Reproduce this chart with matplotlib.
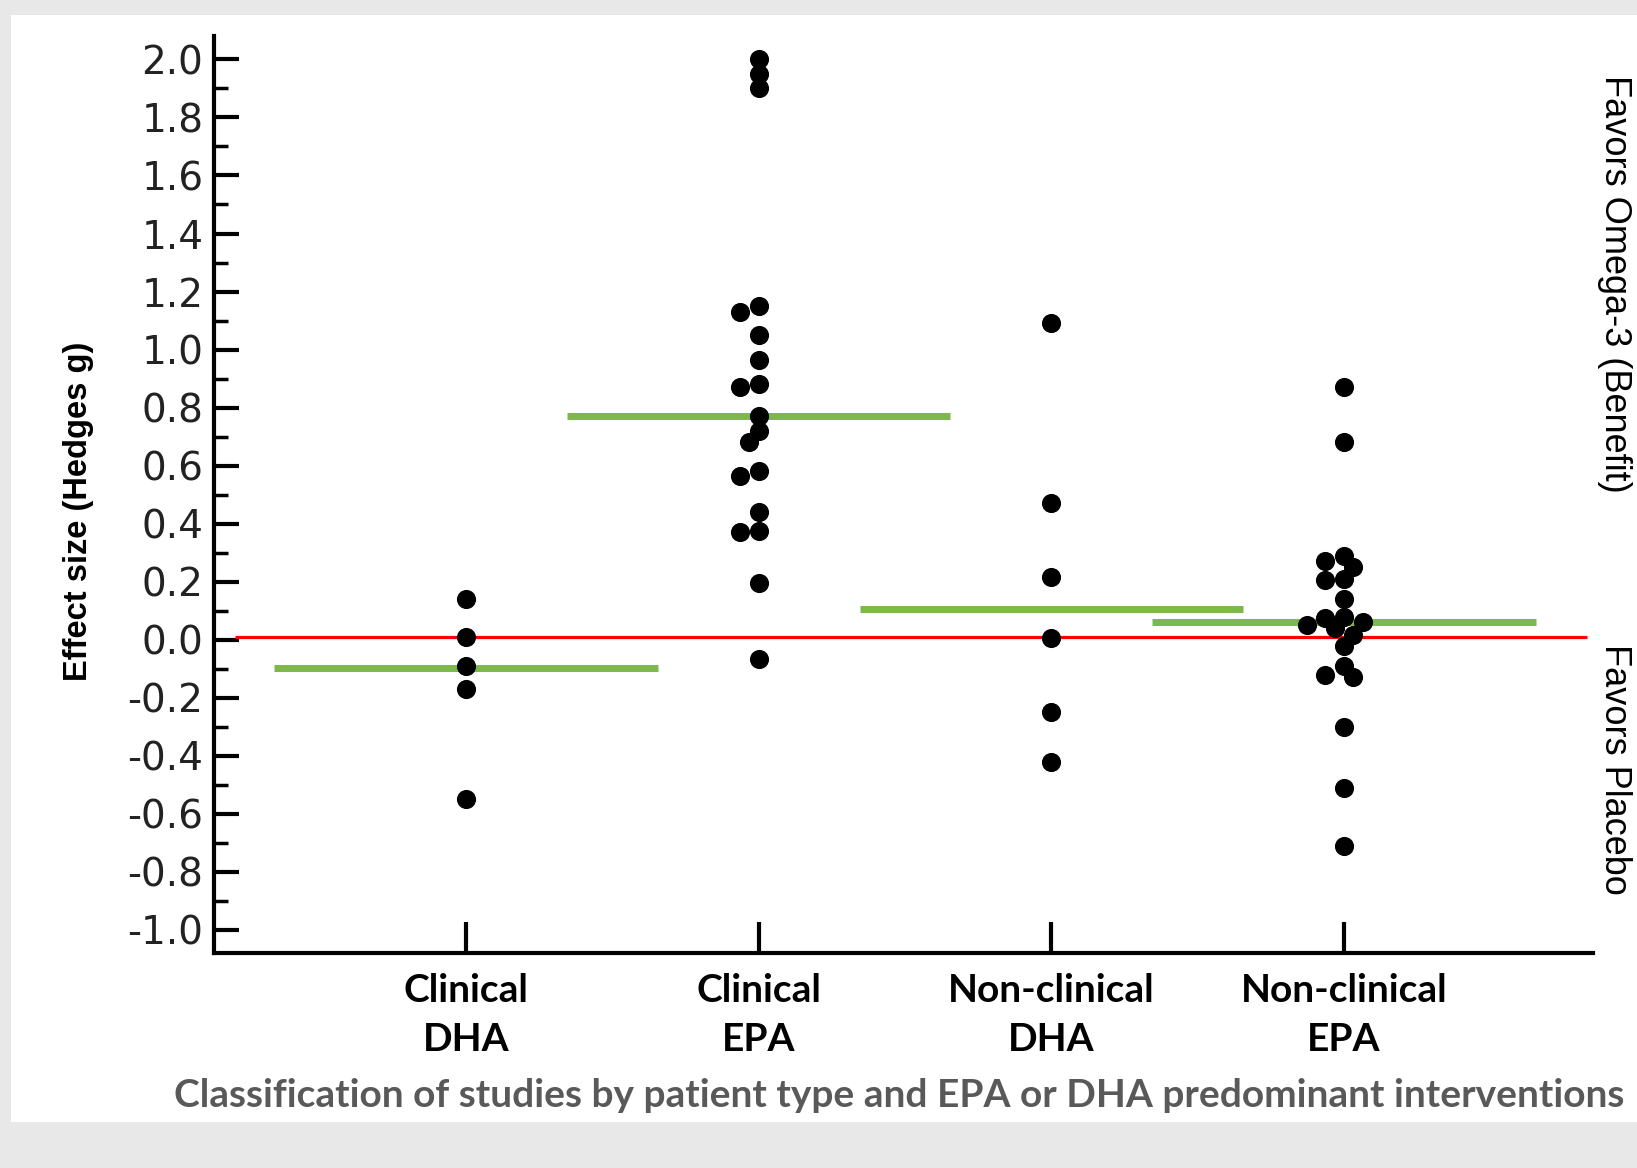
import numpy as np
import matplotlib.pyplot as plt
from matplotlib.patches import Rectangle
from matplotlib.ticker import MultipleLocator

# data
categories = ['Clinical\nDHA', 'Clinical\nEPA', 'Non-clinical\nDHA', 'Non-clinical\nEPA']
clinical_dha = [0.14, 0.01, -0.09, -0.17, -0.55]
clinical_epa = [2.00, 1.95, 1.90, 1.15, 1.13, 1.05, 0.965, 0.88, 0.87, 0.77, 0.72, 0.68,
                0.58, 0.565, 0.44, 0.375, 0.37, 0.195, -0.065]
nonclinical_dha = [1.09, 0.47, 0.215, 0.005, -0.25, -0.42]
nonclinical_epa = [0.87, 0.68, 0.29, 0.27, 0.25, 0.21, 0.205, 0.14, 0.08, 0.075, 0.06,
                   0.05, 0.04, 0.015, -0.02, -0.09, -0.12, -0.13, -0.30, -0.51, -0.71]
group_means = [-0.097, 0.77, 0.105, 0.06]
no_effect = 0.01
ytick_vals = [-1.0, -0.8, -0.6, -0.4, -0.2, 0.0, 0.2, 0.4, 0.6, 0.8, 1.0, 1.2, 1.4, 1.6, 1.8, 2.0]


def swarm(values, d=0.064, thresh=0.7):
    # simple beeswarm: place each point at the smallest offset that does not collide
    placed = []
    offs = np.zeros(len(values))
    order = np.argsort(values)[::-1]
    cands = [0]
    for k in range(1, 8):
        cands += [-k * d / 2, k * d / 2]
    for i in order:
        y = values[i]
        for c in cands:
            if all(np.hypot(c - px, y - py) >= thresh * d for px, py in placed):
                offs[i] = c
                placed.append((c, y))
                break
    return offs


fig = plt.figure(figsize=(16.37, 11.68), dpi=100)
fig.patch.set_facecolor('#e8e8e8')
fig.patches.append(Rectangle((0.007, 0.039), 0.993, 0.948, transform=fig.transFigure,
                             facecolor='white', edgecolor='none', zorder=-1))

ax = fig.add_axes([0.131, 0.184, 0.842, 0.785])
ax.set_facecolor('none')

xs = np.arange(1, len(categories) + 1)
groups = [clinical_dha, clinical_epa, nonclinical_dha, nonclinical_epa]

ax.hlines(group_means, xs - 0.655, xs + 0.655, color='#7cb84a', lw=5, zorder=2)
ax.hlines(no_effect, 0.21, 4.83, color='red', lw=2.3, zorder=3)

for x, vals in zip(xs, groups):
    vals = np.array(vals)
    ax.scatter(x + swarm(vals), vals, s=190, color='black', zorder=4, linewidths=0)

ax.set_xlim(0.14, 4.85)
ax.set_ylim(-1.08, 2.08)
ax.set_xticks(xs)
ax.set_xticklabels(categories, fontfamily='Lato', fontweight='bold', fontsize=28,
                   linespacing=1.5)
ax.yaxis.set_minor_locator(MultipleLocator(0.1))
ax.set_yticks(ytick_vals)
ax.set_yticklabels([f'{v:.1f}' for v in ytick_vals])
ax.tick_params(axis='y', which='major', direction='in', length=18, width=3,
               labelsize=28, colors='black', labelcolor='#222222', pad=8)
ax.tick_params(axis='y', which='minor', direction='in', length=10, width=2.5)
ax.tick_params(axis='x', direction='in', length=22, width=3, pad=14, labelcolor='black')

for s in ['top', 'right']:
    ax.spines[s].set_visible(False)
for s in ['left', 'bottom']:
    ax.spines[s].set_linewidth(3)

fig.text(0.048, 0.562, 'Effect size (Hedges g)', rotation=90, ha='center', va='center',
         fontsize=23.5, fontweight='bold', fontfamily='Liberation Sans')
fig.text(0.549, 0.062, 'Classification of studies by patient type and EPA or DHA predominant interventions',
         ha='center', va='center', fontsize=28, fontweight='bold', fontfamily='Lato',
         color='#595959')
fig.text(0.986, 0.757, 'Favors Omega-3 (Benefit)', rotation=-90, ha='center', va='center',
         fontsize=26, fontfamily='Liberation Sans')
fig.text(0.986, 0.341, 'Favors Placebo', rotation=-90, ha='center', va='center',
         fontsize=26, fontfamily='Liberation Sans')

fig.savefig('out.png', dpi=100, facecolor=fig.get_facecolor())
